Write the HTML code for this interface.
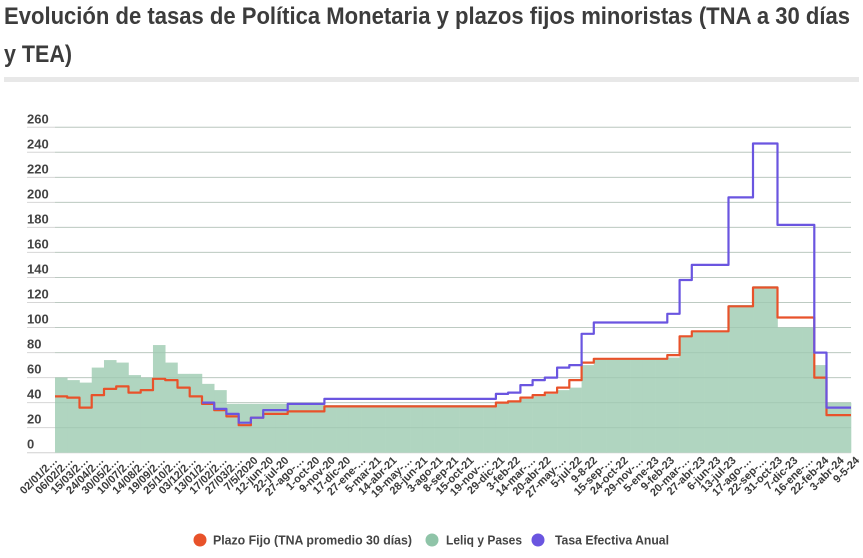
<!DOCTYPE html>
<html><head><meta charset="utf-8">
<style>
html,body{margin:0;padding:0;background:#fff;}
body{width:863px;height:558px;overflow:hidden;position:relative;font-family:"Liberation Sans",sans-serif;}
svg{position:absolute;left:0;top:0;}
</style></head>
<body>
<svg id="chart" width="863" height="558" viewBox="0 0 863 558" xmlns="http://www.w3.org/2000/svg">
  <g font-family="Liberation Sans, sans-serif" font-weight="bold" fill="#3c3c3c" font-size="24">
    <text x="4" y="24" textLength="846" lengthAdjust="spacingAndGlyphs">Evolución de tasas de Política Monetaria y plazos fijos minoristas (TNA a 30 días</text>
    <text x="4" y="62" textLength="68" lengthAdjust="spacingAndGlyphs">y TEA)</text>
  </g>
  <rect x="4" y="77" width="855" height="5" fill="#e8e8e8"/>
  <g id="grid"></g>
  <g id="bars"></g>
  <g id="gridover"></g>
  <g id="lines"></g>
  <g id="ylabels"></g>
  <g id="xlabels"></g>
  <g font-family="Liberation Sans, sans-serif" font-weight="bold" font-size="12.5" fill="#444">
    <g>
      <circle cx="200" cy="540" r="6.5" fill="#e8522a"/>
      <text x="213" y="544.5" textLength="199" lengthAdjust="spacingAndGlyphs">Plazo Fijo (TNA promedio 30 días)</text>
    </g>
    <g>
      <circle cx="432" cy="540" r="6.5" fill="#8fc4a8"/>
      <text x="446" y="544.5" textLength="76" lengthAdjust="spacingAndGlyphs">Leliq y Pases</text>
    </g>
    <g>
      <circle cx="538" cy="540" r="6.5" fill="#6a55e0"/>
      <text x="555" y="544.5" textLength="114" lengthAdjust="spacingAndGlyphs">Tasa Efectiva Anual</text>
    </g>
  </g>
</svg>
<script>
const months = Array.from({length:65},(_, i)=>{const y=2019+Math.floor(i/12);const m=i%12+1;return y+'-'+(m<10?'0':'')+m;});
const leliq = [60,58,56,68,74,72,62,60,86,72,63,63,55,50,39,39,39,39,39,39,39,39,38,38,38,38,38,38,38,38,38,38,38,38,38,38,40,41,43,45,47,50,52,70,75,75,75,75,75,75,76,93,97,97,97,118,118,133,133,100,100,100,70,40,40];
const plazoFijo = [45,44,36,46,51,53,48,50,59,58,52,45,39,34,29,22,28,31,31,33,33,33,37,37,37,37,37,37,37,37,37,37,37,37,37,37,40,41,44,46,48,52,58,72,75,75,75,75,75,75,78,93,97,97,97,117,117,132,132,108,108,108,60,30,30];
const tea = [null,null,null,null,null,null,null,null,null,null,null,null,40,35,31,24,28,34,34,39,39,39,43,43,43,43,43,43,43,43,43,43,43,43,43,43,47,48,54,58,60,68,70,95,104,104,104,104,104,104,111,138,150,150,150,204,204,247,247,182,182,182,80,36,36];
const yTicks = [0,20,40,60,80,100,120,140,160,180,200,220,240,260];
const xTickLabels = ["02/01/2…","06/02/2…","15/03/2…","24/04/2…","30/05/2…","10/07/2…","14/08/2…","19/09/2…","25/10/2…","03/12/2…","13/01/2…","17/02/2…","27/03/2…","7/5/2020","12-jun-20","22-jul-20","27-ago-…","1-oct-20","9-nov-20","17-dic-20","27-ene-…","5-mar-21","14-abr-21","19-may-…","28-jun-21","3-ago-21","8-sep-21","15-oct-21","19-nov-…","29-dic-21","3-feb-22","14-mar-…","20-abr-22","27-may-…","5-jul-22","9-8-22","15-sep-…","24-oct-22","29-nov-…","5-ene-23","9-feb-23","20-mar-…","27-abr-23","6-jun-23","13-jul-23","17-ago-…","22-sep-…","31-oct-23","7-dic-23","16-ene-…","22-feb-24","3-abr-24","9-5-24"];

const NS='http://www.w3.org/2000/svg';
const X0=55, X1=851, Y0=452.7, PX=1.2517;
const bw=(X1-X0)/months.length;
function xl0(i){return X0+i*bw;}
function ys(v){return Y0-v*PX;}
function mk(tag,parent){const e=document.createElementNS(NS,tag);parent.appendChild(e);return e;}

const grid=document.getElementById('grid');
const ylab=document.getElementById('ylabels');
yTicks.forEach(t=>{
  const l=mk('line',grid);
  
  
  l.setAttribute('x1',27);l.setAttribute('x2',851);
  l.setAttribute('y1',ys(t));l.setAttribute('y2',ys(t));
  l.setAttribute('stroke',t===0?'#d0d0d0':'#d6d6d6');l.setAttribute('stroke-width',1);
  const tx=mk('text',ylab);
  
  
  tx.setAttribute('x',27);tx.setAttribute('y',ys(t)-4);
  tx.setAttribute('font-family','Liberation Sans, sans-serif');
  tx.setAttribute('font-weight','bold');tx.setAttribute('font-size','13');tx.setAttribute('fill','#444');
  tx.textContent=t;
});

const bars=document.getElementById('bars');
leliq.forEach((v,i)=>{
  const r=mk('rect',bars);
  
  
  r.setAttribute('x',xl0(i));r.setAttribute('width',bw+0.3);
  r.setAttribute('y',ys(v));r.setAttribute('height',Y0-ys(v));
  r.setAttribute('fill','#b0d5c0');
});
const go=document.getElementById('gridover');
yTicks.forEach(t=>{
  if(t===0)return;
  const l=mk('line',go);
  
  
  l.setAttribute('x1',X0);l.setAttribute('x2',X1);
  l.setAttribute('y1',ys(t));l.setAttribute('y2',ys(t));
  l.setAttribute('stroke','#8fb49f');l.setAttribute('stroke-opacity','0.35');
});

const lines=document.getElementById('lines');
function drawLine(arr,color,name){
  let d='';let pen=false;
  arr.forEach((v,i)=>{
    if(v===null){pen=false;return;}
    const y=ys(v).toFixed(1);
    d+=(pen?'L':'M')+xl0(i).toFixed(1)+' '+y+' L'+xl0(i+1).toFixed(1)+' '+y+' ';
    pen=true;
  });
  const p=mk('path',lines);
  
  
  p.setAttribute('d',d);p.setAttribute('fill','none');
  p.setAttribute('stroke',color);p.setAttribute('stroke-width','2.2');
  p.setAttribute('stroke-linejoin','round');
}
drawLine(plazoFijo,'#e8522a','plazo-fijo-line');
drawLine(tea,'#6a55e0','tea-line');

const xl=document.getElementById('xlabels');
const step=(860-58)/(xTickLabels.length-1);
xTickLabels.forEach((s,k)=>{
  const x=58+k*step, y=461;
  const t=mk('text',xl);
  
  
  t.setAttribute('x',x);t.setAttribute('y',y);
  t.setAttribute('text-anchor','end');
  t.setAttribute('transform','rotate(-45 '+x+' '+y+')');
  t.setAttribute('font-family','Liberation Sans, sans-serif');
  t.setAttribute('font-weight','bold');t.setAttribute('font-size','11');t.setAttribute('fill','#3a3a3a');
  t.textContent=s;
});
</script>
</body></html>
